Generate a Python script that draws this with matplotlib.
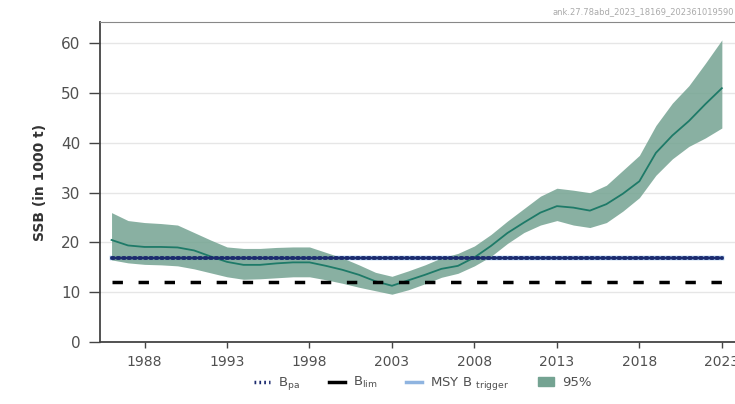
import matplotlib.pyplot as plt
from matplotlib.patches import Patch
from matplotlib.lines import Line2D
import numpy as np

years = np.arange(1986, 2024)
ssb = [20.5, 19.4, 19.1, 19.1, 19.0, 18.4, 17.2, 16.1, 15.5, 15.5,
       15.8, 16.0, 16.0, 15.3, 14.5, 13.5, 12.2, 11.3, 12.4, 13.5,
       14.7, 15.3, 17.0, 19.3, 21.9, 24.0, 26.0, 27.3, 27.0, 26.4,
       27.7, 29.8, 32.3, 38.0, 41.5, 44.4, 47.8, 51.0]
ssb_high = [26.0, 24.4, 24.0, 23.8, 23.5, 22.0, 20.5, 19.1, 18.8, 18.8,
            19.0, 19.1, 19.1, 18.0, 16.9, 15.5, 14.0, 13.2, 14.3, 15.5,
            16.9, 17.8, 19.3, 21.6, 24.3, 26.8, 29.3, 30.9, 30.5, 30.0,
            31.5, 34.5, 37.5, 43.5, 48.0, 51.5, 56.0, 60.7]
ssb_low = [16.5, 15.9, 15.6, 15.5, 15.3, 14.7, 13.9, 13.1, 12.6, 12.7,
           12.9, 13.1, 13.1, 12.5, 11.8, 11.0, 10.3, 9.6, 10.5, 11.7,
           13.0, 13.8, 15.3, 17.2, 19.8, 22.0, 23.5, 24.4, 23.5, 23.0,
           24.0, 26.3, 29.0, 33.5, 36.8, 39.3, 41.0, 43.0]
b_pa = 16.8
b_lim = 12.1
msy_btrigger = 16.8
xticks = [1988, 1993, 1998, 2003, 2008, 2013, 2018, 2023]
yticks = [0, 10, 20, 30, 40, 50, 60]

fill_col = '#74a392'
line_col = '#1e7a68'
navy = '#1c2b6e'
light_blue = '#8fb4e0'
txt = '#505050'

fig = plt.figure(figsize=(7.35, 4.04), dpi=100)
ax = fig.add_axes([100 / 735, 1 - 342 / 404, 640 / 735, 320 / 404])

ax.plot([years[0], years[-1]], [msy_btrigger] * 2, color=light_blue, lw=3.2, zorder=2)
ax.fill_between(years, ssb_low, ssb_high, color=fill_col, alpha=0.85, lw=0, zorder=3)
ax.plot(years, ssb, color=line_col, lw=1.3, zorder=4)
ax.plot([years[0], years[-1]], [b_pa] * 2, color=navy, lw=2.8, linestyle=(0, (0.5, 0.9)),
        dash_capstyle='round', zorder=5)
ax.plot([years[0], years[-1]], [b_lim] * 2, color='black', lw=2.5, linestyle=(0, (3, 4.5)), zorder=5)

ax.set_xlim(1985.3, 2024.1)
ax.set_ylim(0, 64.3)
ax.set_xticks(xticks)
ax.set_yticks(yticks)
ax.yaxis.grid(True, color='#e6e6e6', lw=1)
ax.set_axisbelow(True)
ax.spines['right'].set_visible(False)
ax.spines['top'].set_color('#888888')
ax.spines['left'].set_color('#444444')
ax.spines['bottom'].set_color('#444444')
ax.spines['left'].set_linewidth(1.3)
ax.spines['bottom'].set_linewidth(1.3)
ax.tick_params(axis='y', length=8, width=1, color='#444444', labelsize=11, labelcolor=txt, pad=6)
ax.tick_params(axis='x', length=4, width=1, color='#444444', labelsize=10, labelcolor=txt, pad=5)
ax.set_ylabel('SSB (in 1000 t)', fontsize=10, fontweight='bold', color='#333333', labelpad=10)

fig.text(0.999, 0.97, 'ank.27.78abd_2023_18169_202361019590', ha='right', va='center',
         fontsize=6, color='#aaaaaa')

handles = [
    Line2D([], [], color=navy, lw=2.5, linestyle=(0, (0.5, 0.9))),
    Line2D([], [], color='black', lw=2.5),
    Line2D([], [], color=light_blue, lw=2.5),
    Patch(color=fill_col),
]
labels = [r'B$_{\mathregular{pa}}$', r'B$_{\mathregular{lim}}$',
          r'MSY B $_{\mathregular{trigger}}$', '95%']
fig.legend(handles, labels, loc='center', bbox_to_anchor=(0.575, 0.05), ncol=4,
           frameon=False, fontsize=9.5, labelcolor=txt, handlelength=1.2,
           handletextpad=0.6, columnspacing=2.2)

fig.savefig('out.png', dpi=100)
